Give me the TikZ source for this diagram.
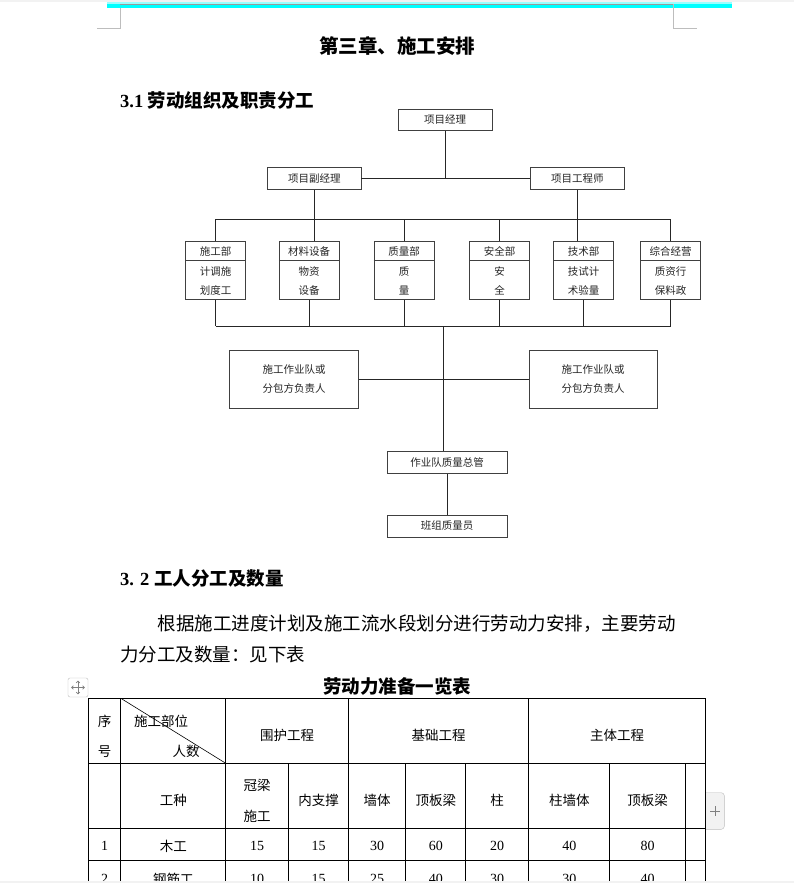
\documentclass[tikz,border=0pt]{standalone}
\usepackage{fontspec}
\setmainfont{Liberation Serif}
\newfontfamily\cjk{Noto Sans CJK SC}
\usepackage{tikz}
\usetikzlibrary{positioning, calc, arrows.meta}
\definecolor{pagecyan}{HTML}{00FFFF}
\definecolor{pagegray}{HTML}{F2F2F2}
\definecolor{markgray}{HTML}{BDBDBD}
\tikzset{
	orgbox/.style={draw=black!75, line width=0.7pt, inner sep=0pt, text=black!85, font=\cjk\fontsize{10.5}{13}\selectfont}
}
\tikzset{
	orgline/.style={draw=black!85, line width=0.7pt}
}
\tikzset{
	boxtext/.style={inner sep=0pt, text=black!85, font=\cjk\fontsize{10.5}{13}\selectfont}
}
\tikzset{
	celltext/.style={inner sep=0pt, font=\cjk\fontsize{13.5}{16}\selectfont}
}
\tikzset{
	numtext/.style={inner sep=0pt, font=\fontsize{14}{16}\selectfont}
}
\tikzset{
	tableline/.style={line width=0.9pt, black}
}
\tikzset{
	heading/.style={inner sep=0pt, font=\bfseries\fontsize{18.5}{22}\selectfont}
}
\tikzset{
	pics/deptbox/.style n args={3}{
		code={
			\node[orgbox, minimum width=60pt, minimum height=58pt] (-box) at (0,0) {};
			\draw[orgbox] ([yshift=-19.4pt]-box.north west) -- ([yshift=-19.4pt]-box.north east);
			\node[boxtext] (-head) at ([yshift=-10.4pt]-box.north) {#1};
			\node[boxtext] (-one) at ([yshift=-30.4pt]-box.north) {#2};
			\node[boxtext] (-two) at ([yshift=-49.7pt]-box.north) {#3};
		}
	}
}

\begin{document}
\begin{tikzpicture}[x=1pt, y=-1pt]

	\useasboundingbox (0,0) rectangle (794,883);
	\fill[white] (0,0) rectangle (794,883);

	\begin{scope}
		\fill[pagegray] (0,0) rectangle (794,2);
		\fill[pagecyan!40] (107.3,2) rectangle (731.7,4);
		\fill[pagecyan] (107.3,4) rectangle (731.7,8);
		\draw[gray!80, line width=0.5pt] (120.3,4.2) -- (673.3,4.2);
		\draw[markgray, line width=0.8pt] (97,28.3) -- (120.3,28.3) -- (120.3,8);
		\draw[markgray, line width=0.8pt] (696.7,28.3) -- (673.3,28.3) -- (673.3,4.2);
	\end{scope}

	\node[heading, font=\cjk\bfseries\fontsize{19.5}{22}\selectfont] (title) at (397,46.5) {第三章、施工安排};
	\node[heading, anchor=west] (secone) at (120,100) {3.1 {\cjk 劳动组织及职责分工}};

	\begin{scope}
		\node[orgbox, minimum width=93.5pt, minimum height=21.7pt] (pm) at (445.2,119.9) {项目经理};
		\node[orgbox, minimum width=93.3pt, minimum height=22pt] (dpm) at (314.3,178.3) {项目副经理};
		\node[orgbox, minimum width=93.3pt, minimum height=22pt] (eng) at (577.3,178.3) {项目工程师};

		\pic (d1) at (215.7,270.3) {deptbox={施工部}{计调施}{划度工}};
		\pic (d2) at (309.1,270.3) {deptbox={材料设备}{物资}{设备}};
		\pic (d3) at (404,270.3) {deptbox={质量部}{质}{量}};
		\pic (d4) at (499.7,270.3) {deptbox={安全部}{安}{全}};
		\pic (d5) at (583.7,270.3) {deptbox={技术部}{技试计}{术验量}};
		\pic (d6) at (670.6,270.3) {deptbox={综合经营}{质资行}{保料政}};

		\node[orgbox, minimum width=128.8pt, minimum height=58pt, align=center, font=\cjk\fontsize{10.5}{19.3}\selectfont] (teamL) at (294,379.3) {施工作业队或\\分包方负责人};
		\node[orgbox, minimum width=128.4pt, minimum height=58pt, align=center, font=\cjk\fontsize{10.5}{19.3}\selectfont] (teamR) at (593.2,379.3) {施工作业队或\\分包方负责人};

		\node[orgbox, minimum width=120.2pt, minimum height=22pt] (qm) at (447.1,462.7) {作业队质量总管};
		\node[orgbox, minimum width=120.2pt, minimum height=22pt] (qc) at (447.1,526) {班组质量员};
	\end{scope}

	\begin{scope}
		\coordinate (topbus) at (0,219.3);
		\coordinate (lowbus) at (0,326);
		\coordinate (trunk) at (443,326);

		\draw[orgline] (pm) -- (pm |- dpm.east);
		\draw[orgline] (dpm) -- (eng);
		\draw[orgline] (d1-box.north |- topbus) -- (d6-box.north |- topbus);
		\draw[orgline] (dpm) -- (dpm |- d2-box.north);
		\draw[orgline] (eng) -- (eng |- d5-box.north);
		\draw[orgline] (d1-box.north) -- (d1-box.north |- topbus);
		\draw[orgline] (d3-box.north) -- (d3-box.north |- topbus);
		\draw[orgline] (d4-box.north) -- (d4-box.north |- topbus);
		\draw[orgline] (d6-box.north) -- (d6-box.north |- topbus);
		\foreach \d in {d1,d2,d3,d4,d5,d6}
			\draw[orgline] (\d-box.south) -- (\d-box.south |- lowbus);
		\draw[orgline] (d1-box.south |- lowbus) -- (d6-box.south |- lowbus);
		\draw[orgline] (trunk) -- (trunk |- qm.north);
		\draw[orgline] (teamL) -- (teamR);
		\draw[orgline] (qm) -- (qc);
	\end{scope}

	\node[heading, anchor=west] (sectwo) at (120,579) {3. 2 {\cjk 工人分工及数量}};
	\node[inner sep=0pt, anchor=west, font=\cjk\fontsize{18.5}{22}\selectfont] (parone) at (157.7,623.3) {根据施工进度计划及施工流水段划分进行劳动力安排，主要劳动};
	\node[inner sep=0pt, anchor=west, font=\cjk\fontsize{18.5}{22}\selectfont] (partwo) at (120,654.3) {力分工及数量：见下表};
	\node[heading, font=\cjk\bfseries\fontsize{18.5}{22}\selectfont] (tabtitle) at (397,686) {劳动力准备一览表};

	\begin{scope}
		\draw[markgray, fill=white, rounded corners=2pt] (68,678) rectangle (88,697);
		\draw[gray, line width=0.6pt, {Straight Barb[length=1.8pt,width=3.6pt]}-{Straight Barb[length=1.8pt,width=3.6pt]}] (71.2,687.5) -- (84.8,687.5);
		\draw[gray, line width=0.6pt, {Straight Barb[length=1.8pt,width=3.6pt]}-{Straight Barb[length=1.8pt,width=3.6pt]}] (78,680.7) -- (78,694.3);
	\end{scope}

	\begin{scope}
		\draw[tableline] (88.6,698.3) -- (705.8,698.3);
		\foreach \ty in {763.3,828.3,860.7}
			\draw[tableline] (88.6,\ty) -- (705.8,\ty);
		\foreach \tx in {88.6,120.8,225.8,348.6,528.7,705.8}
			\draw[tableline] (\tx,698.3) -- (\tx,886);
		\foreach \tx in {288.7,405.9,465.8,609.9,685}
			\draw[tableline] (\tx,763.3) -- (\tx,886);
		\draw[line width=0.6pt] (120.8,698.3) -- (225.8,763.3);

		\node[celltext] (xu) at (104.7,721.7) {序};
		\node[celltext] (hao) at (104.7,751.7) {号};
		\node[celltext, anchor=west] (buwei) at (133.8,721.7) {施工部位};
		\node[celltext, anchor=east] (renshu) at (199.8,751.7) {人数};
		\node[celltext] (weihu) at (287.2,735) {围护工程};
		\node[celltext] (jichu) at (438.6,735) {基础工程};
		\node[celltext] (zhuti) at (617.2,735) {主体工程};

		\node[celltext] (gongzhong) at (173.3,800) {工种};
		\node[celltext] (guanliang) at (257.2,785) {冠梁};
		\node[celltext] (shigong) at (257.2,816.7) {施工};
		\foreach \tx/\lbl [count=\i] in {318.6/内支撑, 377.2/墙体, 435.8/顶板梁, 497.2/柱, 569.3/柱墙体, 647.5/顶板梁}
			\node[celltext] (col-\i) at (\tx,800) {\lbl};

		\node[numtext] (numa) at (104.7,846) {1};
		\node[celltext] (mugong) at (173.3,846) {木工};
		\foreach \tx/\val [count=\i] in {257.2/15, 318.6/15, 377.2/30, 435.8/60, 497.2/20, 569.3/40, 647.5/80}
			\node[numtext] (ra-\i) at (\tx,846) {\val};

		\node[numtext] (numb) at (104.7,879) {2};
		\node[celltext] (gangjin) at (173.3,879) {钢筋工};
		\foreach \tx/\val [count=\i] in {257.2/10, 318.6/15, 377.2/25, 435.8/40, 497.2/30, 569.3/30, 647.5/40}
			\node[numtext] (rb-\i) at (\tx,879) {\val};
	\end{scope}

	\begin{scope}
		\draw[markgray, fill=pagegray, rounded corners=3pt] (706,792.7) -- (724.3,792.7) -- (724.3,829.3) -- (706,829.3);
		\draw[gray, line width=0.7pt] (710,811) -- (720,811) (715,806) -- (715,816);
		\fill[pagegray] (0,880.7) rectangle (794,883);
	\end{scope}

\end{tikzpicture}
\end{document}
